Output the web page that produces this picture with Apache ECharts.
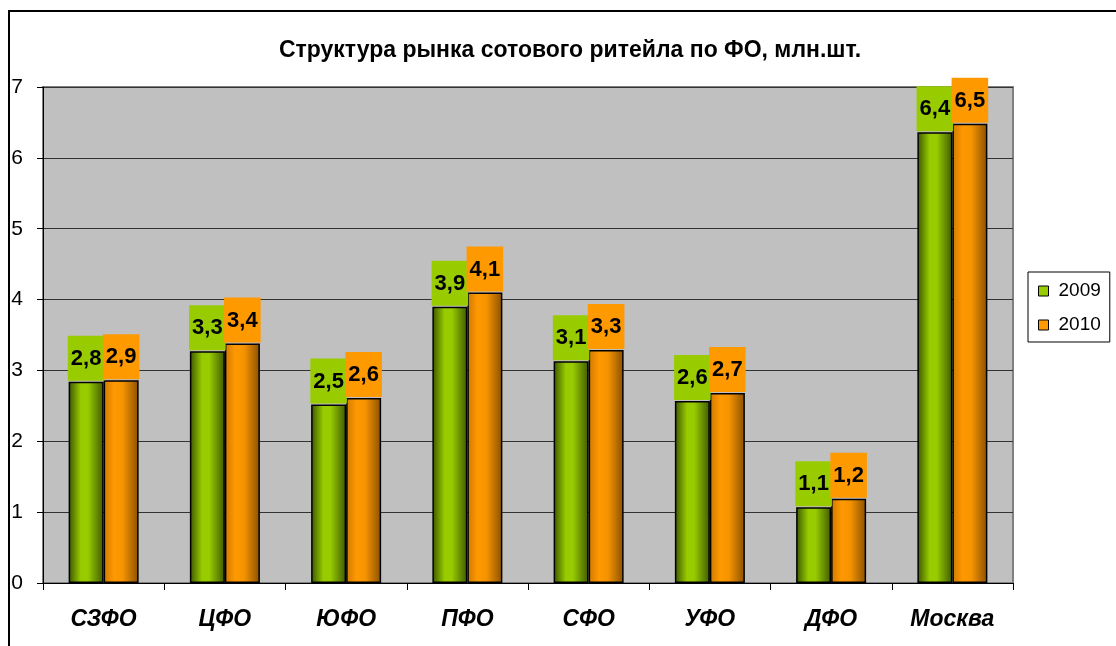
<!DOCTYPE html>
<html>
<head>
<meta charset="utf-8">
<title>Структура рынка сотового ритейла</title>
<script src="https://cdn.jsdelivr.net/npm/echarts@6/dist/echarts.min.js"></script>
<style>
  html, body { margin: 0; padding: 0; background: #fff; }
  #chart { width: 1116px; height: 646px; }
</style>
</head>
<body>
<div id="chart"></div>
<script>
// данные по округам, млн.шт.
const regions = ['СЗФО', 'ЦФО', 'ЮФО', 'ПФО', 'СФО', 'УФО', 'ДФО', 'Москва']
const values2009 = [2.84, 3.27, 2.52, 3.9, 3.13, 2.57, 1.07, 6.36]
const values2010 = [2.86, 3.38, 2.61, 4.1, 3.29, 2.68, 1.19, 6.48]
const yTicks = [0, 1, 2, 3, 4, 5, 6, 7]

const font = 'Liberation Sans, Arial, sans-serif'
const fmt = v => v.toFixed(1).replace('.', ',')

function barGradient(stops) {
  return {
    type: 'linear', x: 0, y: 0, x2: 1, y2: 0,
    colorStops: stops.map(s => ({ offset: s[0], color: s[1] }))
  }
}

const greenFill = barGradient([[0, '#3a5500'], [0.35, '#99cc00'], [0.55, '#99cc00'], [1, '#3f5a00']])
const orangeFill = barGradient([[0, '#d07a00'], [0.3, '#ff9900'], [0.55, '#f59300'], [1, '#8a5000']])

function makeLabel(bg) {
  return {
    show: true,
    position: 'top',
    distance: 1,
    formatter: p => fmt(p.value),
    backgroundColor: bg,
    padding: [12, 3, 11, 3],
    color: '#000',
    fontSize: 22,
    fontWeight: 'bold',
    fontFamily: font
  }
}

const chart = echarts.init(document.getElementById('chart'))
const option = {
  animation: false,
  backgroundColor: '#fff',
  graphic: [{
    type: 'rect',
    shape: { x: 9, y: 11, width: 1200, height: 700 },
    style: { fill: 'none', stroke: '#000', lineWidth: 2 },
    silent: true
  }],
  title: {
    text: 'Структура рынка сотового ритейла по ФО, млн.шт.',
    left: 565,
    top: 34,
    textAlign: 'center',
    textStyle: { fontSize: 23, fontWeight: 'bold', color: '#000', fontFamily: font }
  },
  legend: {
    orient: 'vertical',
    left: 1028,
    top: 272,
    padding: [9, 9, 7, 10],
    itemGap: 14,
    itemWidth: 10,
    itemHeight: 10,
    borderColor: '#000',
    borderWidth: 1,
    icon: 'rect',
    textStyle: { fontSize: 19, lineHeight: 20, color: '#000', fontFamily: font, padding: [0, 0, 0, 5] },
    data: [
      { name: '2009', itemStyle: { color: '#99cc00', borderColor: '#000', borderWidth: 1 } },
      { name: '2010', itemStyle: { color: '#ff9900', borderColor: '#000', borderWidth: 1 } }
    ]
  },
  grid: {
    left: 43, top: 87, right: 103, bottom: 63,
    show: true,
    backgroundColor: '#c0c0c0',
    borderColor: '#808080',
    borderWidth: 2
  },
  xAxis: {
    type: 'category',
    data: regions,
    axisLine: { lineStyle: { color: '#000', width: 1 } },
    axisTick: { show: true, length: 7, lineStyle: { color: '#000' } },
    axisLabel: {
      margin: 25,
      fontSize: 23,
      fontWeight: 'bold',
      fontStyle: 'italic',
      color: '#000',
      fontFamily: font
    }
  },
  yAxis: {
    type: 'value',
    min: yTicks[0],
    max: yTicks[yTicks.length - 1],
    interval: 1,
    axisLine: { show: true, lineStyle: { color: '#000', width: 1 } },
    axisTick: { show: true, length: 6, lineStyle: { color: '#000' } },
    axisLabel: { margin: 20, fontSize: 21, color: '#000', fontFamily: font },
    splitLine: { lineStyle: { color: '#333', width: 1 } }
  },
  series: [
    {
      name: '2009',
      type: 'bar',
      data: values2009,
      barWidth: 35,
      barGap: '0%',
      itemStyle: { color: greenFill, borderColor: '#000', borderWidth: 1.5 },
      label: makeLabel('#99cc00')
    },
    {
      name: '2010',
      type: 'bar',
      data: values2010,
      barWidth: 35,
      itemStyle: { color: orangeFill, borderColor: '#000', borderWidth: 1.5 },
      label: makeLabel('#ff9900')
    }
  ]
}
chart.setOption(option)
</script>
</body>
</html>
